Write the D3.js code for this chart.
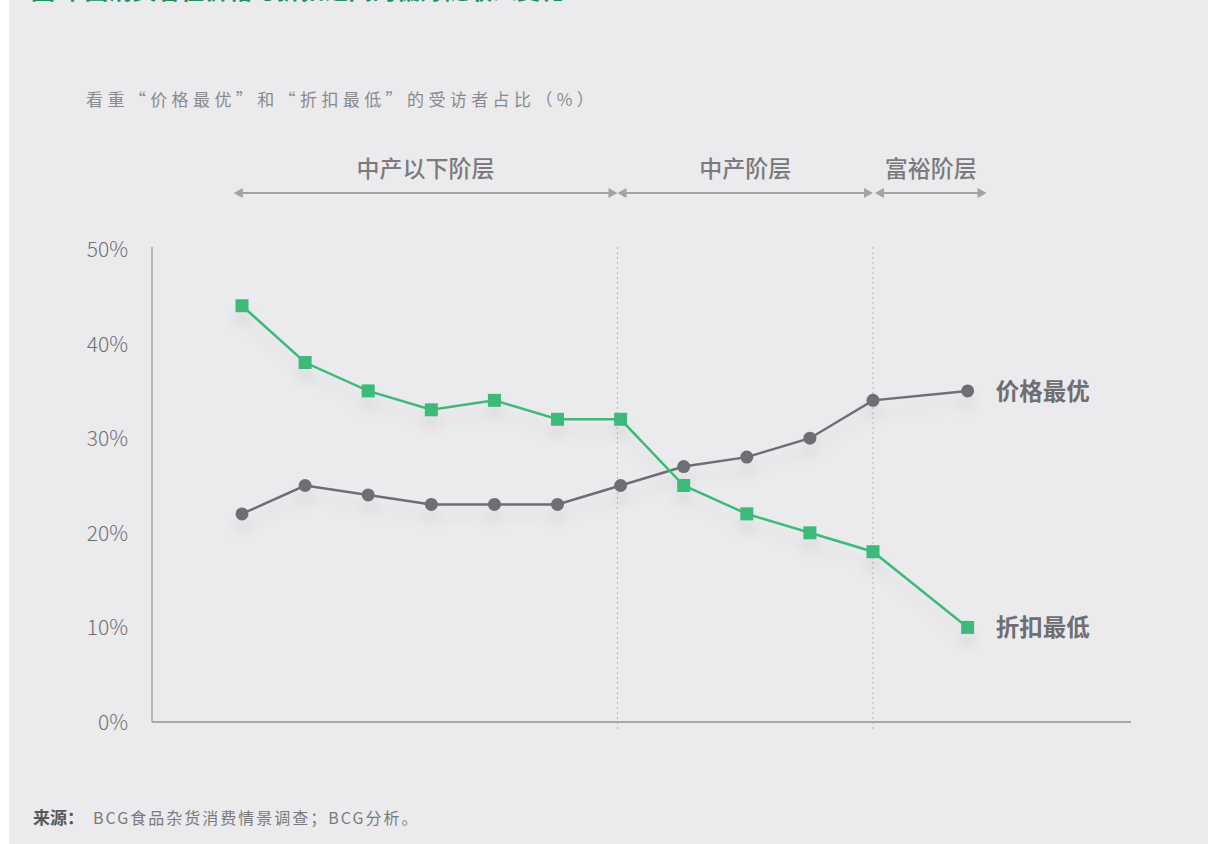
<!DOCTYPE html>
<html>
<head>
<meta charset="utf-8">
<script src="https://cdn.jsdelivr.net/npm/d3@7"></script>
<style>
  html, body { margin: 0; padding: 0; background: #ffffff; }
  svg { display: block; }
  text { font-family: "Noto Sans CJK SC", "Noto Sans", sans-serif; }
</style>
</head>
<body>
<svg id="chart" width="1208" height="844"></svg>
<script>
// Consumer segments along the income axis (position index on the x scale)
const positions = [0, 1, 2, 3, 4, 5, 6, 7, 8, 9, 10, 11.5];
// Share of respondents valuing "best price" (%)
const bestPrice = [22, 25, 24, 23, 23, 23, 25, 27, 28, 30, 34, 35];
// Share of respondents valuing "lowest discount" (%)
const lowestDiscount = [44, 38, 35, 33, 34, 32, 32, 25, 22, 20, 18, 10];
const yTicks = [0, 10, 20, 30, 40, 50];
// Income tiers: start/end on the position index
const tierNames = ["中产以下阶层", "中产阶层", "富裕阶层"];
const tierStart = [-0.13, 5.95, 10.03];
const tierEnd = [5.95, 10.0, 11.8];
const dividers = [5.95, 10.0];

const svg = d3.select("#chart");
const W = 1208, H = 844;

// panel background
svg.append("rect").attr("x", 9).attr("y", 0).attr("width", W - 9).attr("height", H).attr("fill", "#ebebed");

// heading (runs off the top edge)
svg.append("text").attr("x", 31).attr("y", -1)
  .attr("font-size", 24).attr("font-weight", 700).attr("fill", "#1b8f60")
  .text("图 中国消费者在价格与折扣之间的偏好随收入变化");

const x = d3.scaleLinear().domain([0, 10]).range([242, 873]);
const y = d3.scaleLinear().domain([0, 50]).range([722, 249]);

const gray = "#6e6e73", green = "#3cba7a";

// subtitle
svg.append("text").attr("x", 86).attr("y", 106)
  .attr("font-size", 17).attr("fill", "#8a8a8d").attr("letter-spacing", 4.4)
  .text("看重“价格最优”和“折扣最低”的受访者占比（%）");

// tier brackets
const defs = svg.append("defs");
const tierG = svg.append("g");
tierNames.forEach((name, i) => {
  const x0 = x(tierStart[i]), x1 = x(tierEnd[i]);
  const yy = 193;
  tierG.append("line").attr("x1", x0 + 4).attr("x2", x1 - 4).attr("y1", yy).attr("y2", yy)
    .attr("stroke", "#a3a3a6").attr("stroke-width", 2);
  tierG.append("path").attr("d", `M${x0},${yy} l9,-5 l0,10 z`).attr("fill", "#a3a3a6");
  tierG.append("path").attr("d", `M${x1},${yy} l-9,-5 l0,10 z`).attr("fill", "#a3a3a6");
  tierG.append("text").attr("x", (x0 + x1) / 2).attr("y", 177)
    .attr("text-anchor", "middle").attr("font-size", 23).attr("font-weight", 500)
    .attr("fill", "#7b7b7e").text(name);
});

// dotted dividers
dividers.forEach(d => {
  svg.append("line").attr("x1", x(d)).attr("x2", x(d)).attr("y1", 247).attr("y2", 732)
    .attr("stroke", "#b5b5b8").attr("stroke-width", 1).attr("stroke-dasharray", "2,3");
});

// axes
const yAxis = svg.append("g").attr("transform", "translate(152,0)")
  .call(d3.axisLeft(y).tickValues(yTicks).tickSize(0).tickPadding(24).tickFormat(d => d + "%"));
yAxis.select(".domain").attr("stroke", "#a8a8ab").attr("stroke-width", 1.5).attr("d", `M0,${y(50) - 2}V${y(0)}`);
yAxis.selectAll("text").attr("font-family", "Lato, sans-serif").attr("font-weight", 300)
  .attr("font-size", 21).attr("fill", "#6f6f72").attr("dy", "0.36em");

svg.append("line").attr("x1", 152).attr("x2", 1131).attr("y1", y(0)).attr("y2", y(0))
  .attr("stroke", "#a8a8ab").attr("stroke-width", 2);

// soft shadow under the lines
const f = defs.append("filter").attr("id", "shadow").attr("x", "-10%").attr("y", "-20%").attr("width", "120%").attr("height", "160%");
f.append("feDropShadow").attr("dx", 0).attr("dy", 12).attr("stdDeviation", 6)
  .attr("flood-color", "#000").attr("flood-opacity", 0.07);

const line = d3.line().x(d => x(d[0])).y(d => y(d[1]));
const priceData = positions.map((p, i) => [p, bestPrice[i]]);
const discData = positions.map((p, i) => [p, lowestDiscount[i]]);

const gPrice = svg.append("g").attr("filter", "url(#shadow)");
gPrice.append("path").datum(priceData).attr("d", line).attr("fill", "none")
  .attr("stroke", gray).attr("stroke-width", 2.5);
gPrice.selectAll("circle").data(priceData).join("circle")
  .attr("cx", d => x(d[0])).attr("cy", d => y(d[1])).attr("r", 6.5).attr("fill", gray);

const gDisc = svg.append("g").attr("filter", "url(#shadow)");
gDisc.append("path").datum(discData).attr("d", line).attr("fill", "none")
  .attr("stroke", green).attr("stroke-width", 2.5);
gDisc.selectAll("rect").data(discData).join("rect")
  .attr("x", d => x(d[0]) - 6.5).attr("y", d => y(d[1]) - 6.5)
  .attr("width", 13).attr("height", 13).attr("fill", green);

// series labels
const last = positions.length - 1;
svg.append("text").attr("x", x(positions[last]) + 28).attr("y", y(bestPrice[last]) + 9)
  .attr("font-size", 23.5).attr("font-weight", 700).attr("fill", gray).text("价格最优");
svg.append("text").attr("x", x(positions[last]) + 28).attr("y", y(lowestDiscount[last]) + 9)
  .attr("font-size", 23.5).attr("font-weight", 700).attr("fill", gray).text("折扣最低");

// source note
const src = svg.append("text").attr("x", 33).attr("y", 824).attr("font-size", 16);
src.append("tspan").attr("font-weight", 700).attr("font-size", 17).attr("fill", "#58585b").text("来源：");
src.append("tspan").attr("dx", 9).attr("fill", "#7a7a7d").attr("letter-spacing", 2).text("BCG食品杂货消费情景调查；BCG分析。");
</script>
</body>
</html>
